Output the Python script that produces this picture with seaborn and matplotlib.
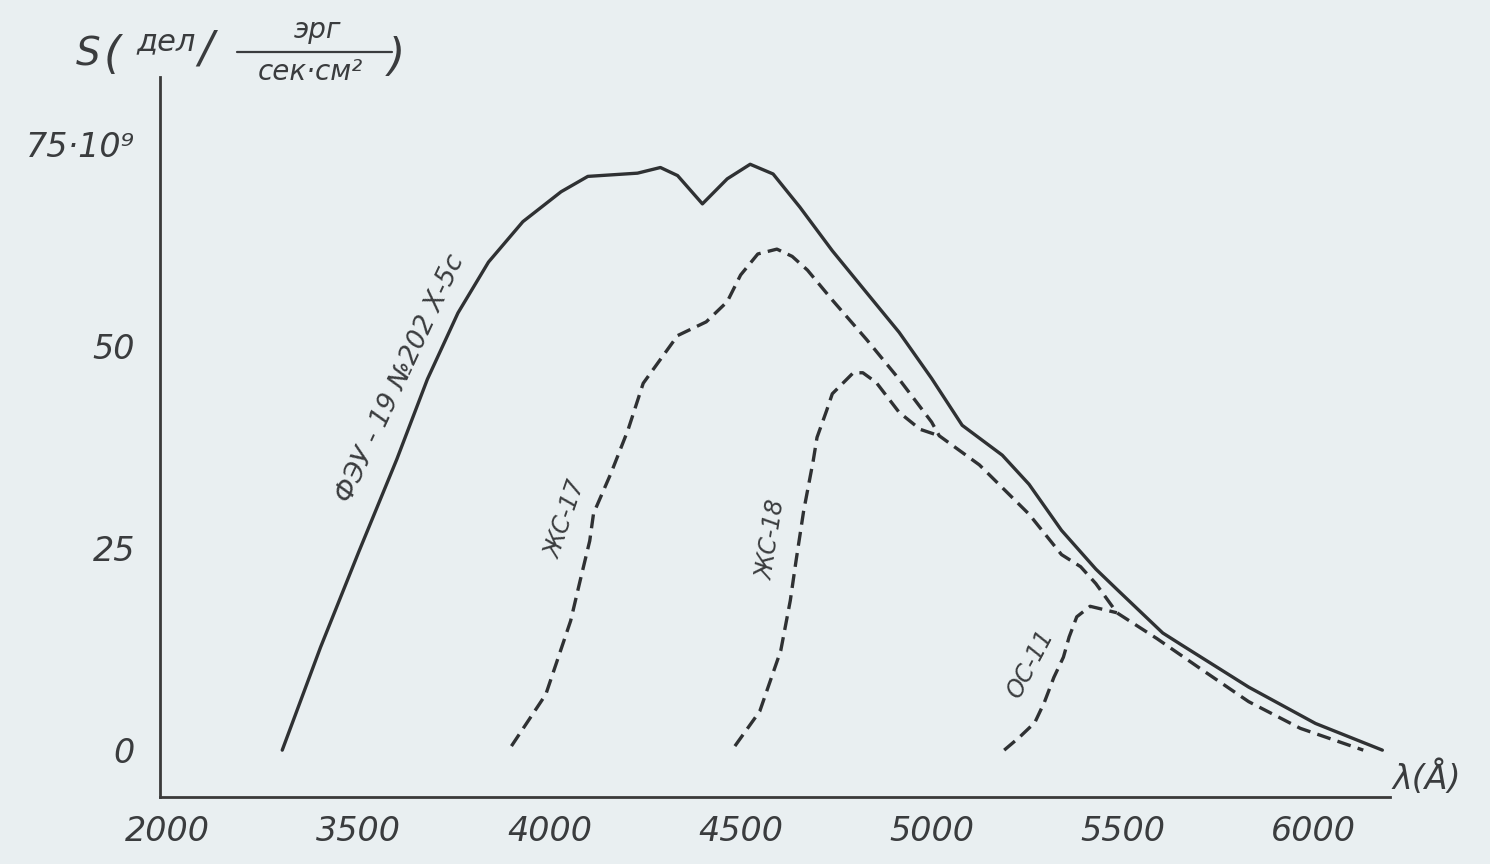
import matplotlib
matplotlib.use("Agg")
import matplotlib.pyplot as plt
import seaborn as sns

# Spectral sensitivity of the photomultiplier and with colour filters
wl_pmt = [3300, 3400, 3500, 3600, 3680, 3760, 3840, 3930, 4030, 4100, 4230, 4290,
          4335, 4400, 4465, 4525, 4585, 4655, 4740, 4830, 4915, 5000, 5080, 5185,
          5255, 5340, 5430, 5485, 5605, 5655, 5830, 6005, 6180]
s_pmt = [0, 12.7, 24.5, 36.0, 45.9, 54.1, 60.4, 65.4, 69.1, 71.0, 71.4, 72.1,
         71.1, 67.6, 70.7, 72.5, 71.3, 67.2, 61.8, 56.6, 51.7, 46.0, 40.2, 36.5,
         32.9, 27.2, 22.4, 19.9, 14.5, 13.0, 7.8, 3.3, 0]

wl_zs17 = [3900, 3990, 4055, 4080, 4105, 4115, 4160, 4205, 4245, 4335, 4410, 4465,
           4500, 4545, 4595, 4635, 4675, 4740, 4830, 4915, 5000, 5020, 5125, 5255,
           5340, 5390, 5430, 5485, 5590, 5700, 5830, 5965, 6130]
s_zs17 = [0.5, 6.9, 16.0, 21.0, 25.9, 29.3, 34.2, 39.6, 45.4, 51.3, 53.0, 55.5,
          58.8, 61.4, 62.0, 61.1, 59.4, 55.7, 50.8, 45.9, 40.6, 38.9, 35.3, 29.2,
          24.2, 22.7, 20.6, 17.0, 13.8, 10.2, 6.0, 2.7, 0]

wl_zs18 = [4485, 4550, 4605, 4630, 4645, 4665, 4690, 4700, 4725, 4740, 4795, 4820,
           4855, 4915, 4970, 5020]
s_zs18 = [0.5, 4.8, 12.3, 18.5, 23.4, 29.6, 35.8, 38.7, 42.0, 44.1, 46.7, 46.7,
          45.5, 41.8, 39.7, 38.9]

wl_os11 = [5190, 5230, 5270, 5295, 5320, 5345, 5360, 5380, 5415, 5485]
s_os11 = [0, 1.6, 3.4, 5.9, 9.0, 11.5, 14.0, 16.5, 17.8, 17.0]

x_ticks = [3000, 3500, 4000, 4500, 5000, 5500, 6000]
x_tick_labels = ["2000", "3500", "4000", "4500", "5000", "5500", "6000"]
y_ticks = [0, 25, 50, 75]
y_tick_labels = ["0", "25", "50", "75·10⁹"]

BG = "#e9eff1"
INK = "#2f3133"
TXT = "#3a3c3e"

sns.set_theme(style="white")
plt.rcParams["font.family"] = ["DejaVu Sans"]

W, H = 1490, 864
fig = plt.figure(figsize=(W / 100, H / 100), dpi=100, facecolor=BG)
ax = fig.add_axes([160 / W, 1 - 797 / H, 1230 / W, 720 / H])
ax.set_facecolor(BG)


def fx(px):
    return px / W


def fy(py):
    return 1 - py / H


line_kw = dict(ax=ax, color=INK, lw=2.4, sort=False, estimator=None,
               solid_joinstyle="round", dash_joinstyle="round")
sns.lineplot(x=wl_pmt, y=s_pmt, **line_kw)
for wl, s in [(wl_zs17, s_zs17), (wl_zs18, s_zs18), (wl_os11, s_os11)]:
    sns.lineplot(x=wl, y=s, **line_kw)
    ax.lines[-1].set_dashes((4.2, 2.2))

ax.set_xlim(2980, 6200)
ax.set_ylim(-5.8, 83.3)

for side in ("top", "right"):
    ax.spines[side].set_visible(False)
for side in ("left", "bottom"):
    ax.spines[side].set_color("#3a3a3a")
    ax.spines[side].set_linewidth(2.0)

ax.set_xticks(x_ticks)
ax.set_xticklabels(x_tick_labels)
ax.set_yticks(y_ticks)
ax.set_yticklabels(y_tick_labels)
ax.tick_params(axis="both", direction="in", length=9, width=1.6, color="#3a3a3a",
               labelsize=24, labelcolor=TXT)
ax.tick_params(axis="x", pad=13)
ax.tick_params(axis="y", pad=18)
for lab in ax.get_xticklabels() + ax.get_yticklabels():
    lab.set_fontstyle("italic")

# curve annotations
lab_kw = dict(color=TXT, fontstyle="italic", ha="center", va="center",
              rotation_mode="anchor")
ax.text(3610, 46, "ФЭУ - 19 №202 Х-5с", fontsize=19, rotation=65, **lab_kw)
ax.text(4041, 28.5, "ЖС-17", fontsize=17, rotation=71, **lab_kw)
ax.text(4580, 26, "ЖС-18", fontsize=17, rotation=81, **lab_kw)
ax.text(5259, 10.6, "ОС-11", fontsize=17, rotation=62, **lab_kw)

# axis titles
tkw = dict(color=TXT, fontstyle="italic", va="center")
fig.text(fx(76), fy(55), "S", fontsize=28, ha="left", **tkw)
fig.text(fx(104), fy(55), "(", fontsize=32, ha="left", **tkw)
fig.text(fx(136), fy(42), "дел", fontsize=22, ha="left", **tkw)
fig.text(fx(198), fy(50), "/", fontsize=32, ha="left", **tkw)
fig.text(fx(318), fy(30), "эрг", fontsize=20, ha="center", **tkw)
fig.text(fx(310), fy(72), "сек·см²", fontsize=20, ha="center", **tkw)
fig.add_artist(plt.Line2D([fx(237), fx(392)], [fy(52), fy(52)], color=TXT, lw=1.6))
fig.text(fx(388), fy(58), ")", fontsize=32, ha="left", **tkw)
fig.text(fx(1392), fy(778), "λ(Å)", fontsize=24, ha="left", **tkw)

fig.savefig("out.png", dpi=100, facecolor=BG)
